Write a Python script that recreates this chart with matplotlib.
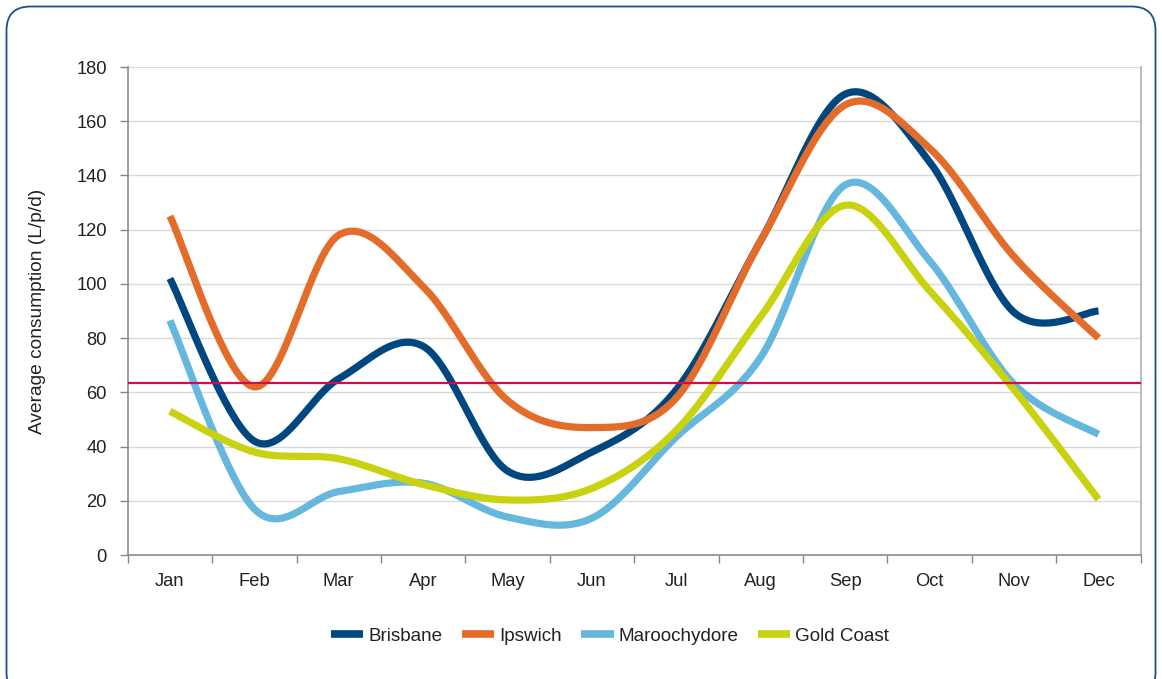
import numpy as np
import matplotlib
matplotlib.use("Agg")
import matplotlib.pyplot as plt
from matplotlib.patches import FancyBboxPatch
from matplotlib.lines import Line2D

months = ["Jan", "Feb", "Mar", "Apr", "May", "Jun", "Jul", "Aug", "Sep", "Oct", "Nov", "Dec"]
brisbane = [102, 42, 65, 77, 31, 38, 61, 116, 170, 145, 89.5, 90]
ipswich = [125, 62, 118, 99, 57, 47, 58, 116, 166, 150, 110, 80]
maroochydore = [86.5, 17, 23.4, 26.5, 14, 13.6, 43.6, 73, 136.5, 108.5, 63, 44.5]
gold_coast = [53, 38, 35.5, 26, 20.3, 24.6, 46, 88, 129, 97.5, 61, 20.5]
reference_level = 63.3
series_names = ["Brisbane", "Ipswich", "Maroochydore", "Gold Coast"]
series_colors = ["#00467f", "#e46c2b", "#66b7dd", "#c8d20f"]

plt.rcParams['font.family'] = ['Liberation Sans', 'DejaVu Sans']
FS = 13.2


def smooth(x, y, n=40):
    x = np.asarray(x, float)
    y = np.asarray(y, float)
    px, py = [], []
    m = len(x)
    for i in range(m - 1):
        i0 = max(i - 1, 0)
        i3 = min(i + 2, m - 1)
        p0 = np.array([x[i], y[i]])
        p3 = np.array([x[i + 1], y[i + 1]])
        c1 = p0 + (np.array([x[i + 1], y[i + 1]]) - np.array([x[i0], y[i0]])) / 6.0
        c2 = p3 - (np.array([x[i3], y[i3]]) - np.array([x[i], y[i]])) / 6.0
        t = np.linspace(0, 1, n)[:, None]
        pts = ((1 - t) ** 3) * p0 + 3 * ((1 - t) ** 2) * t * c1 + 3 * (1 - t) * t ** 2 * c2 + t ** 3 * p3
        if i > 0:
            pts = pts[1:]
        px.extend(pts[:, 0])
        py.extend(pts[:, 1])
    return np.array(px), np.array(py)


W, H = 1162, 679
fig = plt.figure(figsize=(W / 100, H / 100), dpi=100)

# background frame
bg = fig.add_axes([0, 0, 1, 1], zorder=-10)
bg.set_xlim(0, W)
bg.set_ylim(H, 0)
bg.axis("off")
bg.add_patch(FancyBboxPatch((6.5, 6.5), 1149, 690, boxstyle="round,pad=0,rounding_size=24",
                            facecolor="white", edgecolor="#1d4f87", linewidth=1.3))

left, right, top, bottom = 127.7, 1140.7, 67, 555
ax = fig.add_axes([left / W, 1 - bottom / H, (right - left) / W, (bottom - top) / H])
ax.set_facecolor("none")

x = np.arange(len(months))
data = [brisbane, ipswich, maroochydore, gold_coast]
for vals, name, col in zip(data, series_names, series_colors):
    sx, sy = smooth(x, vals)
    ax.plot(sx, sy, color=col, lw=5.2, solid_capstyle="butt", label=name, zorder=3)

ax.axhline(reference_level, color="#d50b4f", lw=1.6, zorder=4)

ax.set_xlim(-0.5, len(months) - 0.5)
ax.set_ylim(0, 180)
ax.set_yticks(np.arange(0, 181, 20))
ax.yaxis.grid(True, color="#d9d9d9", lw=1.0)
ax.set_axisbelow(True)

ax.set_xticks(np.arange(-0.5, len(months), 1.0))
ax.set_xticklabels([])
ax.set_xticks(x, minor=True)
ax.set_xticklabels(months, minor=True)
ax.tick_params(axis="x", which="major", length=6, color="#868686", width=1)
ax.tick_params(axis="x", which="minor", length=0, pad=13, labelsize=FS, labelcolor="#222222")
ax.tick_params(axis="y", length=6, color="#868686", width=1, labelsize=FS, labelcolor="#222222", pad=9)

ax.spines["top"].set_visible(False)
for s in ["left", "bottom", "right"]:
    ax.spines[s].set_color("#8c8c8c")
    ax.spines[s].set_linewidth(1.2)
ax.spines["right"].set_color("#b0b0b0")

ax.set_ylabel("Average consumption (L/p/d)", fontsize=13.8, color="#222222", labelpad=22)

handles = [Line2D([0], [0], color=c, lw=5.5, solid_capstyle="butt") for c in series_colors]
fig.legend(handles, series_names, loc="center", bbox_to_anchor=(610 / W, 1 - 636 / H), ncol=4,
           frameon=False, fontsize=13.6, handlelength=1.7, handletextpad=0.24, columnspacing=1.06,
           labelcolor="#222222")

fig.savefig("out.png", dpi=100)
